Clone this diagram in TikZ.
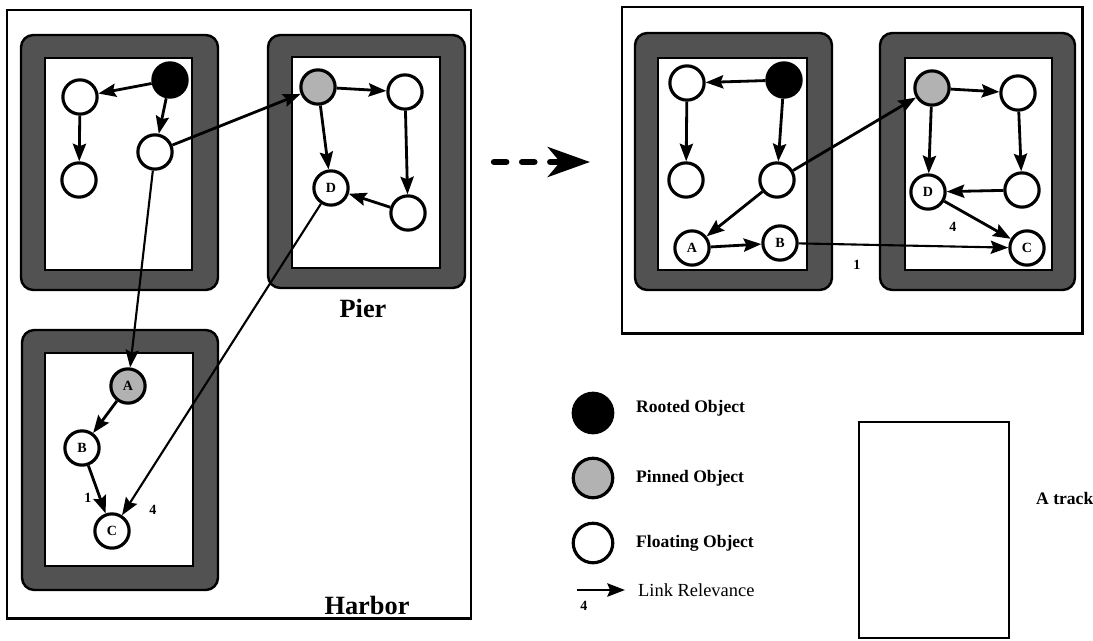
\documentclass[tikz,border=0pt]{standalone}
\usepackage{fontspec}
\setmainfont{Liberation Serif}
\usetikzlibrary{arrows.meta}

\tikzset{
  obj/.style={circle, draw, line width=1.8pt, fill=white, minimum size=19.5pt, inner sep=0pt, font=\bfseries\fontsize{8}{9}\selectfont},
  rooted/.style={obj, fill=black},
  pinned/.style={obj, fill=black!30},
  link/.style={-{Stealth[length=10pt, width=7.5pt, inset=1.5pt]}, line width=1.6pt},
  farlink/.style={link, line width=1.2pt},
  rim/.style={fill=black!68, draw=black, line width=1.4pt, rounded corners=7pt},
  hole/.style={fill=white, draw=black, line width=1pt},
  region/.style={draw, line width=1.7pt},
  relev/.style={font=\bfseries\fontsize{8}{9}\selectfont},
  legtext/.style={anchor=west, font=\bfseries\fontsize{10}{12}\selectfont},
  place/.style={font=\bfseries\fontsize{15}{18}\selectfont},
}

\begin{document}
\begin{tikzpicture}[x=0.02cm, y=-0.02cm]
        \useasboundingbox (0,0) rectangle (1093,640);

        % harbor before the move
        \draw[region] (7,10) rectangle (471,618);
        \draw[rim] (21,35) rectangle (218,290);
        \draw[hole] (45,58) rectangle (192,270);
        \draw[rim] (268,35) rectangle (465,288);
        \draw[hole] (292,57) rectangle (440,268);
        \draw[rim] (22,330) rectangle (218,590);
        \draw[hole] (45,353) rectangle (193,566);

        \node[rooted] (hroot) at (170,80) {};
        \node[obj] (hfl) at (80,97) {};
        \node[obj] (hfll) at (79,180) {};
        \node[obj] (hfm) at (155,152) {};
        \node[pinned] (hpin) at (318,87) {};
        \node[obj] (hfr) at (405,92) {};
        \node[obj] (hfrr) at (408,213) {};
        \node[obj] (hd) at (331,188) {D};
        \node[pinned] (ha) at (128,386) {A};
        \node[obj] (hb) at (82,448) {B};
        \node[obj] (hc) at (112,531) {C};

        \draw[link] (hroot) -- (hfl);
        \draw[link] (hroot) -- (hfm);
        \draw[link] (hfl) -- (hfll);
        \draw[link] (hfm) -- (hpin);
        \draw[link] (hpin) -- (hfr);
        \draw[link] (hpin) -- (hd);
        \draw[link] (hfr) -- (hfrr);
        \draw[link] (hfrr) -- (hd);
        \draw[farlink] (hfm) -- (ha);
        \draw[farlink] (hd) -- (hc);
        \draw[link] (ha) -- (hb);
        \draw[link] (hb) -- (hc);

        \node[relev] (hone) at (88,498) {1};
        \node[relev] (hfour) at (153,510) {4};
        \node[place] (pier) at (363,308) {Pier};
        \node[place] (harbor) at (367,605) {Harbor};

        % the move
        \coordinate (go1) at (494,162);
        \coordinate (go2) at (590,162);
        \draw[line width=3.6pt, line cap=round, dash pattern=on 7pt off 9pt,
              -{Stealth[length=24pt, width=17pt, inset=7pt]}] (go1) -- (go2);

        % harbor after the move
        \draw[region] (622,7) rectangle (1082,333);
        \draw[rim] (635,33) rectangle (832,290);
        \draw[hole] (658,58) rectangle (807,270);
        \draw[rim] (880,33) rectangle (1075,290);
        \draw[hole] (905,58) rectangle (1052,270);

        \node[obj] (tfl) at (687,83) {};
        \node[rooted] (troot) at (784,80) {};
        \node[obj] (tfll) at (686,180) {};
        \node[obj] (tfm) at (777,180) {};
        \node[obj] (ta) at (692,248) {A};
        \node[obj] (tb) at (780,243) {B};
        \node[pinned] (tpin) at (932,88) {};
        \node[obj] (tfr) at (1018,93) {};
        \node[obj] (td) at (928,192) {D};
        \node[obj] (tfrr) at (1022,190) {};
        \node[obj] (tc) at (1027,248) {C};

        \draw[link] (troot) -- (tfl);
        \draw[link] (tfl) -- (tfll);
        \draw[link] (troot) -- (tfm);
        \draw[link] (tfm) -- (tpin);
        \draw[link] (tfm) -- (ta);
        \draw[link] (ta) -- (tb);
        \draw[farlink] (tb) -- (tc);
        \draw[link] (tpin) -- (tfr);
        \draw[link] (tpin) -- (td);
        \draw[link] (tfr) -- (tfrr);
        \draw[link] (tfrr) -- (td);
        \draw[link] (td) -- (tc);

        \node[relev] (tfour) at (953,227) {4};
        \node[relev] (tone) at (857,265) {1};

        % legend
        \node[rooted, minimum size=22.5pt] (kroot) at (593,413) {};
        \node[legtext] (kroottext) at (630,408) {Rooted Object};
        \node[pinned, minimum size=22.5pt] (kpin) at (593,478) {};
        \node[legtext] (kpintext) at (630,478) {Pinned Object};
        \node[obj, minimum size=22.5pt] (kfloat) at (593,543) {};
        \node[legtext] (kfloattext) at (630,543) {Floating Object};
        \coordinate (kl1) at (577,590);
        \coordinate (kl2) at (625,590);
        \draw[link] (kl1) -- (kl2);
        \node[relev] (kfour) at (584,606) {4};
        \node[anchor=west, font=\fontsize{10.5}{12}\selectfont] (klinktext) at (632,590) {Link Relevance};

        \node[draw, line width=1.5pt, minimum width=150*0.02cm, minimum height=216*0.02cm, inner sep=0pt] (track) at (934,530) {};
        \node[legtext] (tracktext) at (1030,498) {A track};
    \end{tikzpicture}
\end{document}
